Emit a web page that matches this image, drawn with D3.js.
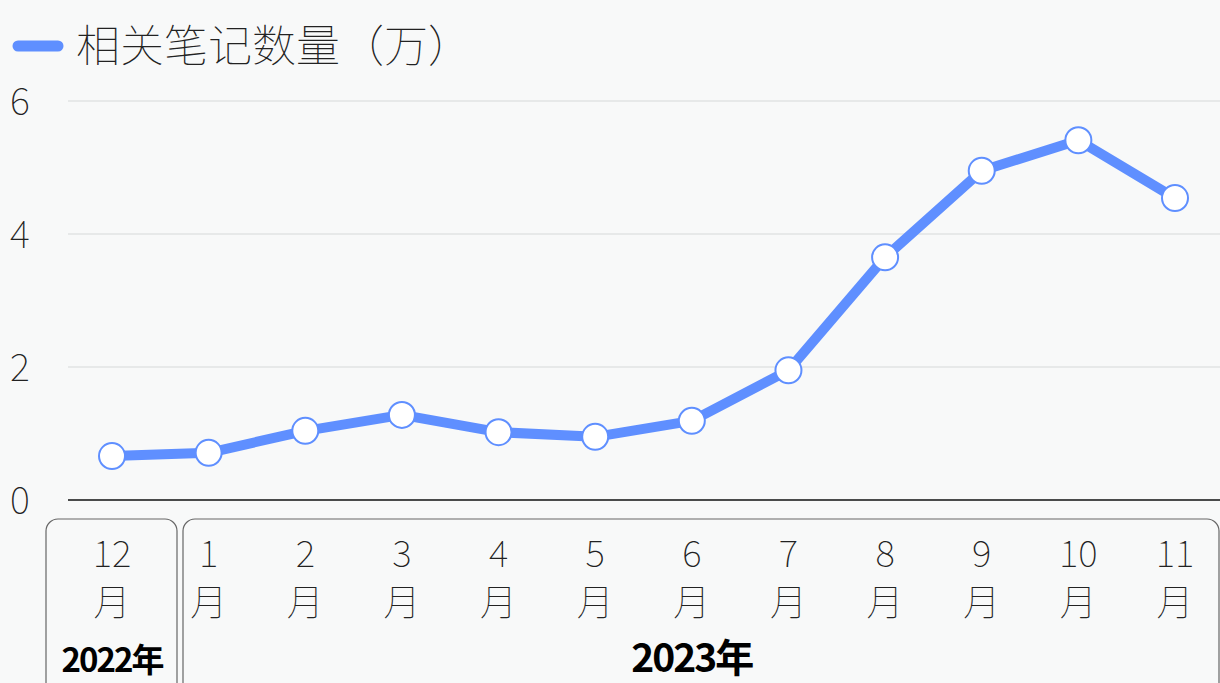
<!DOCTYPE html>
<html>
<head>
<meta charset="utf-8">
<script src="https://cdn.jsdelivr.net/npm/d3@7"></script>
<style>
  body { margin: 0; background: #f8f9f9; }
  svg { display: block; font-family: "Noto Sans CJK SC", sans-serif; }
</style>
</head>
<body>
<svg id="chart" width="1220" height="683"></svg>
<script>
// data
var months = ["12", "1", "2", "3", "4", "5", "6", "7", "8", "9", "10", "11"];
var noteCounts = [0.66, 0.71, 1.04, 1.28, 1.02, 0.95, 1.19, 1.95, 3.65, 4.95, 5.41, 4.54];
var yTicks = [0, 2, 4, 6];
var years = ["2022年", "2023年"];
var yearSpans = [[0, 0], [1, 11]];   // first and last month index for each year
var seriesName = "相关笔记数量（万）";

var blue = "#5f8fff";

var svg = d3.select("#chart"),
    width = +svg.attr("width"),
    height = +svg.attr("height");

var x = d3.scalePoint().domain(d3.range(months.length)).range([112, 1175]);
var y = d3.scaleLinear().domain([0, 6]).range([500, 101]);

// gridlines
svg.append("g")
  .selectAll("line")
  .data(yTicks.filter(function(d) { return d > 0; }))
  .enter().append("line")
  .attr("x1", 68).attr("x2", width)
  .attr("y1", function(d) { return y(d); })
  .attr("y2", function(d) { return y(d); })
  .attr("stroke", "#e2e3e3")
  .attr("stroke-width", 1.5);

// baseline
svg.append("line")
  .attr("x1", 68).attr("x2", width)
  .attr("y1", y(0)).attr("y2", y(0))
  .attr("stroke", "#111").attr("stroke-width", 1.5);

// y tick labels
svg.append("g")
  .selectAll("text")
  .data(yTicks)
  .enter().append("text")
  .attr("x", 10)
  .attr("y", function(d) { return y(d); })
  .attr("dy", "0.36em")
  .attr("font-size", 38)
  .attr("font-weight", 100)
  .attr("fill", "#222")
  .text(function(d) { return d; });

// year brackets
var boxTop = 519;
svg.append("g")
  .selectAll("rect")
  .data(yearSpans)
  .enter().append("rect")
  .attr("x", function(d, i) { return i == 0 ? 46 : 183; })
  .attr("y", boxTop)
  .attr("width", function(d, i) { return i == 0 ? 131 : 1036; })
  .attr("height", 200)
  .attr("rx", 12)
  .attr("fill", "none")
  .attr("stroke", "#666")
  .attr("stroke-width", 1.2);

// month labels
var monthLabels = svg.append("g")
  .selectAll("g")
  .data(months)
  .enter().append("g")
  .attr("transform", function(d, i) { return "translate(" + x(i) + ",0)"; });

monthLabels.append("text")
  .attr("y", 567)
  .attr("text-anchor", "middle")
  .attr("font-size", 37)
  .attr("font-weight", 100)
  .attr("fill", "#222")
  .text(function(d) { return d; });

monthLabels.append("text")
  .attr("y", 616)
  .attr("text-anchor", "middle")
  .attr("font-size", 37)
  .attr("font-weight", 100)
  .attr("fill", "#222")
  .text("月");

// year labels
svg.append("g")
  .selectAll("text")
  .data(years)
  .enter().append("text")
  .attr("x", function(d, i) {
    var s = yearSpans[i];
    return (x(s[0]) + x(s[1])) / 2;
  })
  .attr("y", 672)
  .attr("text-anchor", "middle")
  .attr("font-size", function(d, i) { return i == 0 ? 33 : 39; })
  .attr("font-weight", 700)
  .attr("letter-spacing", -2)
  .attr("fill", "#000")
  .text(function(d) { return d; });

// series line
var line = d3.line()
  .x(function(d, i) { return x(i); })
  .y(function(d) { return y(d); });

svg.append("path")
  .datum(noteCounts)
  .attr("d", line)
  .attr("fill", "none")
  .attr("stroke", blue)
  .attr("stroke-width", 10)
  .attr("stroke-linejoin", "round");

svg.append("g")
  .selectAll("circle")
  .data(noteCounts)
  .enter().append("circle")
  .attr("cx", function(d, i) { return x(i); })
  .attr("cy", function(d) { return y(d); })
  .attr("r", 13)
  .attr("fill", "#fff")
  .attr("stroke", blue)
  .attr("stroke-width", 2);

// legend
svg.append("line")
  .attr("x1", 18).attr("x2", 58)
  .attr("y1", 46).attr("y2", 46)
  .attr("stroke", blue)
  .attr("stroke-width", 11)
  .attr("stroke-linecap", "round");

svg.append("text")
  .attr("x", 76)
  .attr("y", 62)
  .attr("font-size", 44)
  .attr("font-weight", 100)
  .attr("fill", "#222")
  .text(seriesName);
</script>
</body>
</html>
